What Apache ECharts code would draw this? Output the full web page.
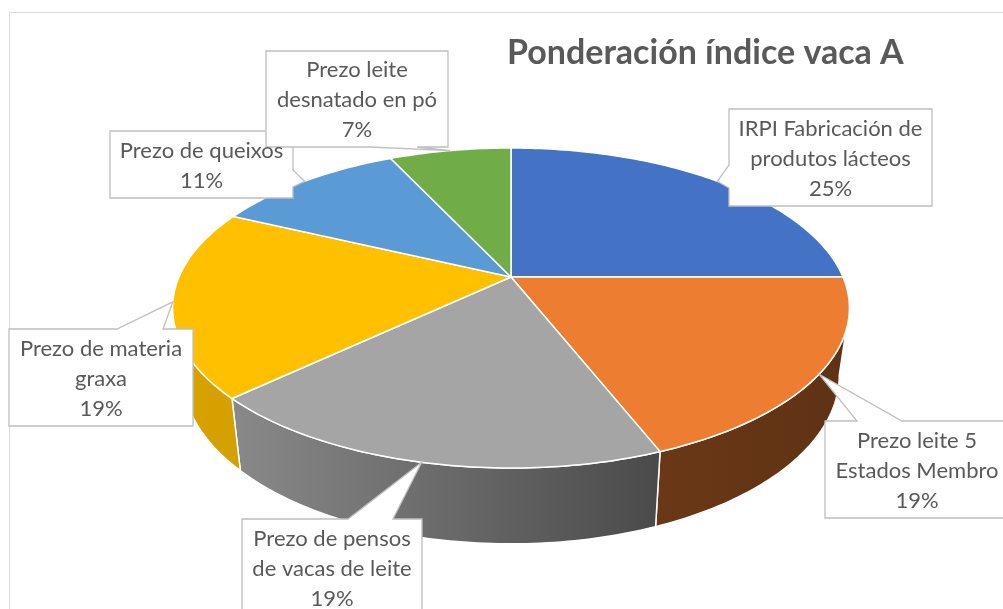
<!DOCTYPE html>
<html>
<head>
<meta charset="utf-8">
<script src="https://cdn.jsdelivr.net/npm/echarts@6/dist/echarts.min.js"></script>
<style>
html,body{margin:0;padding:0;background:#fff;}
#main{width:1003px;height:609px;}
</style>
</head>
<body>
<div id="main"></div>
<script>
// datos
var categories = ['IRPI Fabricación de\nprodutos lácteos', 'Prezo leite 5\nEstados Membro', 'Prezo de pensos\nde vacas de leite', 'Prezo de materia\ngraxa', 'Prezo de queixos', 'Prezo leite\ndesnatado en pó'];
var values = [25, 19, 19, 19, 11, 7];
var colors = ['#4472C4', '#ED7D31', '#A5A5A5', '#FFC000', '#5B9BD5', '#70AD47'];
var titleText = 'Ponderación índice vaca A';

// caixas das etiquetas (layout)
var boxes = [
    {x:729, y:109, w:203, h:97, side:'left', base:[165, 188]},
    {x:825, y:421, w:184, h:97, side:'top', base:[857, 902]},
    {x:242, y:519, w:180, h:97, side:'top', base:[348, 393]},
    {x:9, y:329, w:184, h:97, side:'top', base:[117, 163]},
    {x:110, y:131, w:183, h:67, side:'right', base:[170, 187]},
    {x:266, y:51, w:182, h:96, side:'bottom', base:[370, 417]}
];

var FONT = 'Lato, "Noto Sans", sans-serif';
var pie3d = {cx:511, cy:277, a:332, b:154, k:0.1937, depth:65.8, shrink:0.97};

function $each(arr, fn){ for(var i=0;i<arr.length;i++){ fn(arr[i], i); } }
var total = 0, starts = [];
$each(values, function(v){ starts.push(total); total += v; });

// angulo en graos, dende arriba en sentido horario
function proj(theta, r, bottom){
    var t = theta * Math.PI / 180;
    var u = r * Math.sin(t), v = r * Math.cos(t);
    var d = 1 + pie3d.k * v;
    var x = pie3d.a * u / d, y = -pie3d.b * v / d;
    if(bottom){
        x *= pie3d.shrink;
        y = y * pie3d.shrink + pie3d.depth / d;
    }
    return [pie3d.cx + x, pie3d.cy + y];
}

function shade(hex, f){
    var n = parseInt(hex.slice(1), 16);
    var r = Math.round(((n >> 16) & 255) * f), g = Math.round(((n >> 8) & 255) * f), b = Math.round((n & 255) * f);
    return 'rgb(' + r + ',' + g + ',' + b + ')';
}
function wallLight(theta){
    if(theta <= 150) return 0.40;
    if(theta >= 230) return 0.85;
    return 0.40 + (theta - 150) / 80 * 0.45;
}

var silA = Math.acos(-pie3d.k) * 180 / Math.PI;

function renderItem(params, api){
    var i = params.dataIndex;
    var a0 = api.value(1) / total * 360;
    var a1 = (api.value(1) + api.value(0)) / total * 360;
    var col = colors[i];
    var children = [];

    var w0 = Math.max(a0, silA), w1 = Math.min(a1, 360 - silA);
    if(w1 > w0){
        var pts = [], t;
        for(t = w0; t < w1; t += 1) pts.push(proj(t, 1, false));
        pts.push(proj(w1, 1, false));
        for(t = w1; t > w0; t -= 1) pts.push(proj(t, 1, true));
        pts.push(proj(w0, 1, true));
        var xl = proj(w0, 1, false)[0], xr = proj(w1, 1, false)[0];
        // a luz cambia dun lado ao outro da parede
        var fl = xl < xr ? wallLight(w0) : wallLight(w1);
        var fr = xl < xr ? wallLight(w1) : wallLight(w0);
        children.push({
            type:'polygon',
            shape:{points:pts},
            style:{
                fill:new echarts.graphic.LinearGradient(0, 0, 1, 0, [
                    {offset:0, color:shade(col, fl)},
                    {offset:1, color:shade(col, fr)}
                ]),
                stroke:'#fff', lineWidth:1.5
            }
        });
    }

    var top = [[pie3d.cx, pie3d.cy]];
    for(var s = a0; s < a1; s += 1) top.push(proj(s, 1, false));
    top.push(proj(a1, 1, false));
    children.push({
        type:'polygon',
        shape:{points:top},
        style:{fill:col, stroke:'#fff', lineWidth:1.5}
    });
    return {type:'group', children:children};
}

function callout(bx, tip){
    var x0 = bx.x, y0 = bx.y, x1 = bx.x + bx.w, y1 = bx.y + bx.h;
    var p = [[x0, y0]];
    if(bx.side == 'top'){ p.push([bx.base[0], y0], tip, [bx.base[1], y0]); }
    p.push([x1, y0]);
    if(bx.side == 'right'){ p.push([x1, bx.base[0]], tip, [x1, bx.base[1]]); }
    p.push([x1, y1]);
    if(bx.side == 'bottom'){ p.push([bx.base[1], y1], tip, [bx.base[0], y1]); }
    p.push([x0, y1]);
    if(bx.side == 'left'){ p.push([x0, bx.base[1]], tip, [x0, bx.base[0]]); }
    return p;
}

var graphics = [{
    type:'rect', z:1, silent:true,
    shape:{x:9.5, y:12.5, width:1010, height:620},
    style:{fill:null, stroke:'#D9D9D9', lineWidth:1}
}];
$each(boxes, function(bx, i){
    var mid = (starts[i] + values[i] / 2) / total * 360;
    var tip = proj(mid, 1, false);
    graphics.push({
        type:'polygon', z:10,
        shape:{points:callout(bx, tip)},
        style:{fill:'#fff', stroke:'#BFBFBF', lineWidth:1.3}
    });
    graphics.push({
        type:'text', z:11,
        x:bx.x + bx.w / 2, y:bx.y + bx.h / 2 + 1,
        style:{
            text:categories[i] + '\n' + Math.round(values[i] / total * 100) + '%',
            fill:'#595959', font:'22px ' + FONT,
            align:'center', verticalAlign:'middle', lineHeight:30
        }
    });
});

var chart = echarts.init(document.getElementById('main'));
chart.setOption({
    animation:false,
    title:{
        text:titleText, left:502, top:31,
        textStyle:{fontSize:34, fontWeight:'bold', color:'#595959', fontFamily:FONT}
    },
    graphic:graphics,
    series:[{
        type:'custom',
        coordinateSystem:'none',
        renderItem:renderItem,
        data:values.map(function(v, i){ return {name:categories[i], value:[v, starts[i]]}; })
    }]
});
</script>
</body>
</html>
